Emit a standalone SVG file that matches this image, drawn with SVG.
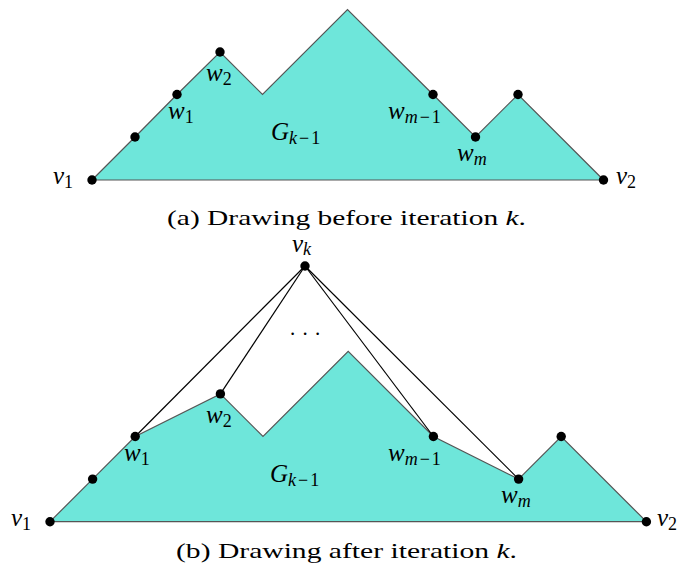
<svg xmlns="http://www.w3.org/2000/svg" width="681" height="574" viewBox="0 0 681 574">
<style>
.poly{fill:#6EE6DA;stroke:#555;stroke-width:1.2;stroke-linejoin:miter}
.edge{stroke:#000;stroke-width:1.2;fill:none}
.dot{fill:#000}
.lbl{font-family:"Liberation Serif","DejaVu Serif",serif;font-style:italic;font-size:25px;fill:#000}
.sub{font-size:18px}
.sp{letter-spacing:2px}
.up{font-style:normal}
.cap{font-family:"Liberation Serif","DejaVu Serif",serif;font-size:21px;fill:#000}
</style>
<rect width="681" height="574" fill="#fff"/>
<!-- top drawing -->
<g id="Gtop">
<polygon class="poly" points="92,180 135,137 177,94.5 220,52 262.5,94.5 347.5,9.5 433,94.5 475.5,137 518,94.5 603.5,180"/>
<text class="lbl" x="271" y="140">G<tspan class="sub sp" dy="4">k</tspan><tspan class="sub up sp">−1</tspan></text>
</g>
<g id="top-v1"><circle class="dot" cx="92" cy="180" r="4.7"/><text class="lbl" x="53" y="184">v<tspan class="sub up" dy="4">1</tspan></text></g>
<g id="top-a"><circle class="dot" cx="135" cy="137" r="4.7"/></g>
<g id="top-w1"><circle class="dot" cx="177" cy="94.5" r="4.7"/><text class="lbl" x="168" y="119">w<tspan class="sub up" dy="4">1</tspan></text></g>
<g id="top-w2"><circle class="dot" cx="220" cy="52" r="4.7"/><text class="lbl" x="206" y="81">w<tspan class="sub up" dy="4">2</tspan></text></g>
<g id="top-wm1"><circle class="dot" cx="433" cy="94.5" r="4.7"/><text class="lbl" x="388" y="119">w<tspan class="sub sp" dy="4">m</tspan><tspan class="sub up sp">−1</tspan></text></g>
<g id="top-wm"><circle class="dot" cx="475.5" cy="137" r="4.7"/><text class="lbl" x="457" y="161">w<tspan class="sub sp" dy="4">m</tspan></text></g>
<g id="top-b"><circle class="dot" cx="518" cy="94.5" r="4.7"/></g>
<g id="top-v2"><circle class="dot" cx="603.5" cy="180" r="4.7"/><text class="lbl" x="616" y="184">v<tspan class="sub up" dy="4">2</tspan></text></g>
<text class="cap" x="167" y="224.5" textLength="359" lengthAdjust="spacingAndGlyphs">(a) Drawing before iteration <tspan font-style="italic">k</tspan>.</text>
<!-- bottom drawing -->
<g id="Gbottom">
<polygon class="poly" points="50,521.7 92.6,479.1 135.2,436.5 220.4,393.9 263,436.5 348.2,351.3 433.4,436.5 518.6,479.1 561.2,436.5 646.4,521.7"/>
<text class="lbl" x="270" y="482">G<tspan class="sub sp" dy="4">k</tspan><tspan class="sub up sp">−1</tspan></text>
</g>
<g id="edges">
<line class="edge" x1="305" y1="266" x2="135.2" y2="436.5"/>
<line class="edge" x1="305" y1="266" x2="220.4" y2="393.9"/>
<line class="edge" x1="305" y1="266" x2="433.4" y2="436.5"/>
<line class="edge" x1="305" y1="266" x2="518.6" y2="479.1"/>
</g>
<text class="cap" x="290" y="334.5" font-size="20" letter-spacing="7.2">...</text>
<g id="vk"><circle class="dot" cx="305" cy="266" r="4.7"/><text class="lbl" x="292" y="252" font-size="24">v<tspan class="sub" dy="3">k</tspan></text></g>
<g id="bot-v1"><circle class="dot" cx="50" cy="521.7" r="4.7"/><text class="lbl" x="11" y="526">v<tspan class="sub up" dy="4">1</tspan></text></g>
<g id="bot-a"><circle class="dot" cx="92.6" cy="479.1" r="4.7"/></g>
<g id="bot-w1"><circle class="dot" cx="135.2" cy="436.5" r="4.7"/><text class="lbl" x="124" y="461">w<tspan class="sub up" dy="4">1</tspan></text></g>
<g id="bot-w2"><circle class="dot" cx="220.4" cy="393.9" r="4.7"/><text class="lbl" x="206" y="423">w<tspan class="sub up" dy="4">2</tspan></text></g>
<g id="bot-wm1"><circle class="dot" cx="433.4" cy="436.5" r="4.7"/><text class="lbl" x="388" y="461">w<tspan class="sub sp" dy="4">m</tspan><tspan class="sub up sp">−1</tspan></text></g>
<g id="bot-wm"><circle class="dot" cx="518.6" cy="479.1" r="4.7"/><text class="lbl" x="501" y="503">w<tspan class="sub sp" dy="4">m</tspan></text></g>
<g id="bot-b"><circle class="dot" cx="561.2" cy="436.5" r="4.7"/></g>
<g id="bot-v2"><circle class="dot" cx="646.4" cy="521.7" r="4.7"/><text class="lbl" x="657" y="526">v<tspan class="sub up" dy="4">2</tspan></text></g>
<text class="cap" x="176" y="558" textLength="341" lengthAdjust="spacingAndGlyphs">(b) Drawing after iteration <tspan font-style="italic">k</tspan>.</text>
</svg>
